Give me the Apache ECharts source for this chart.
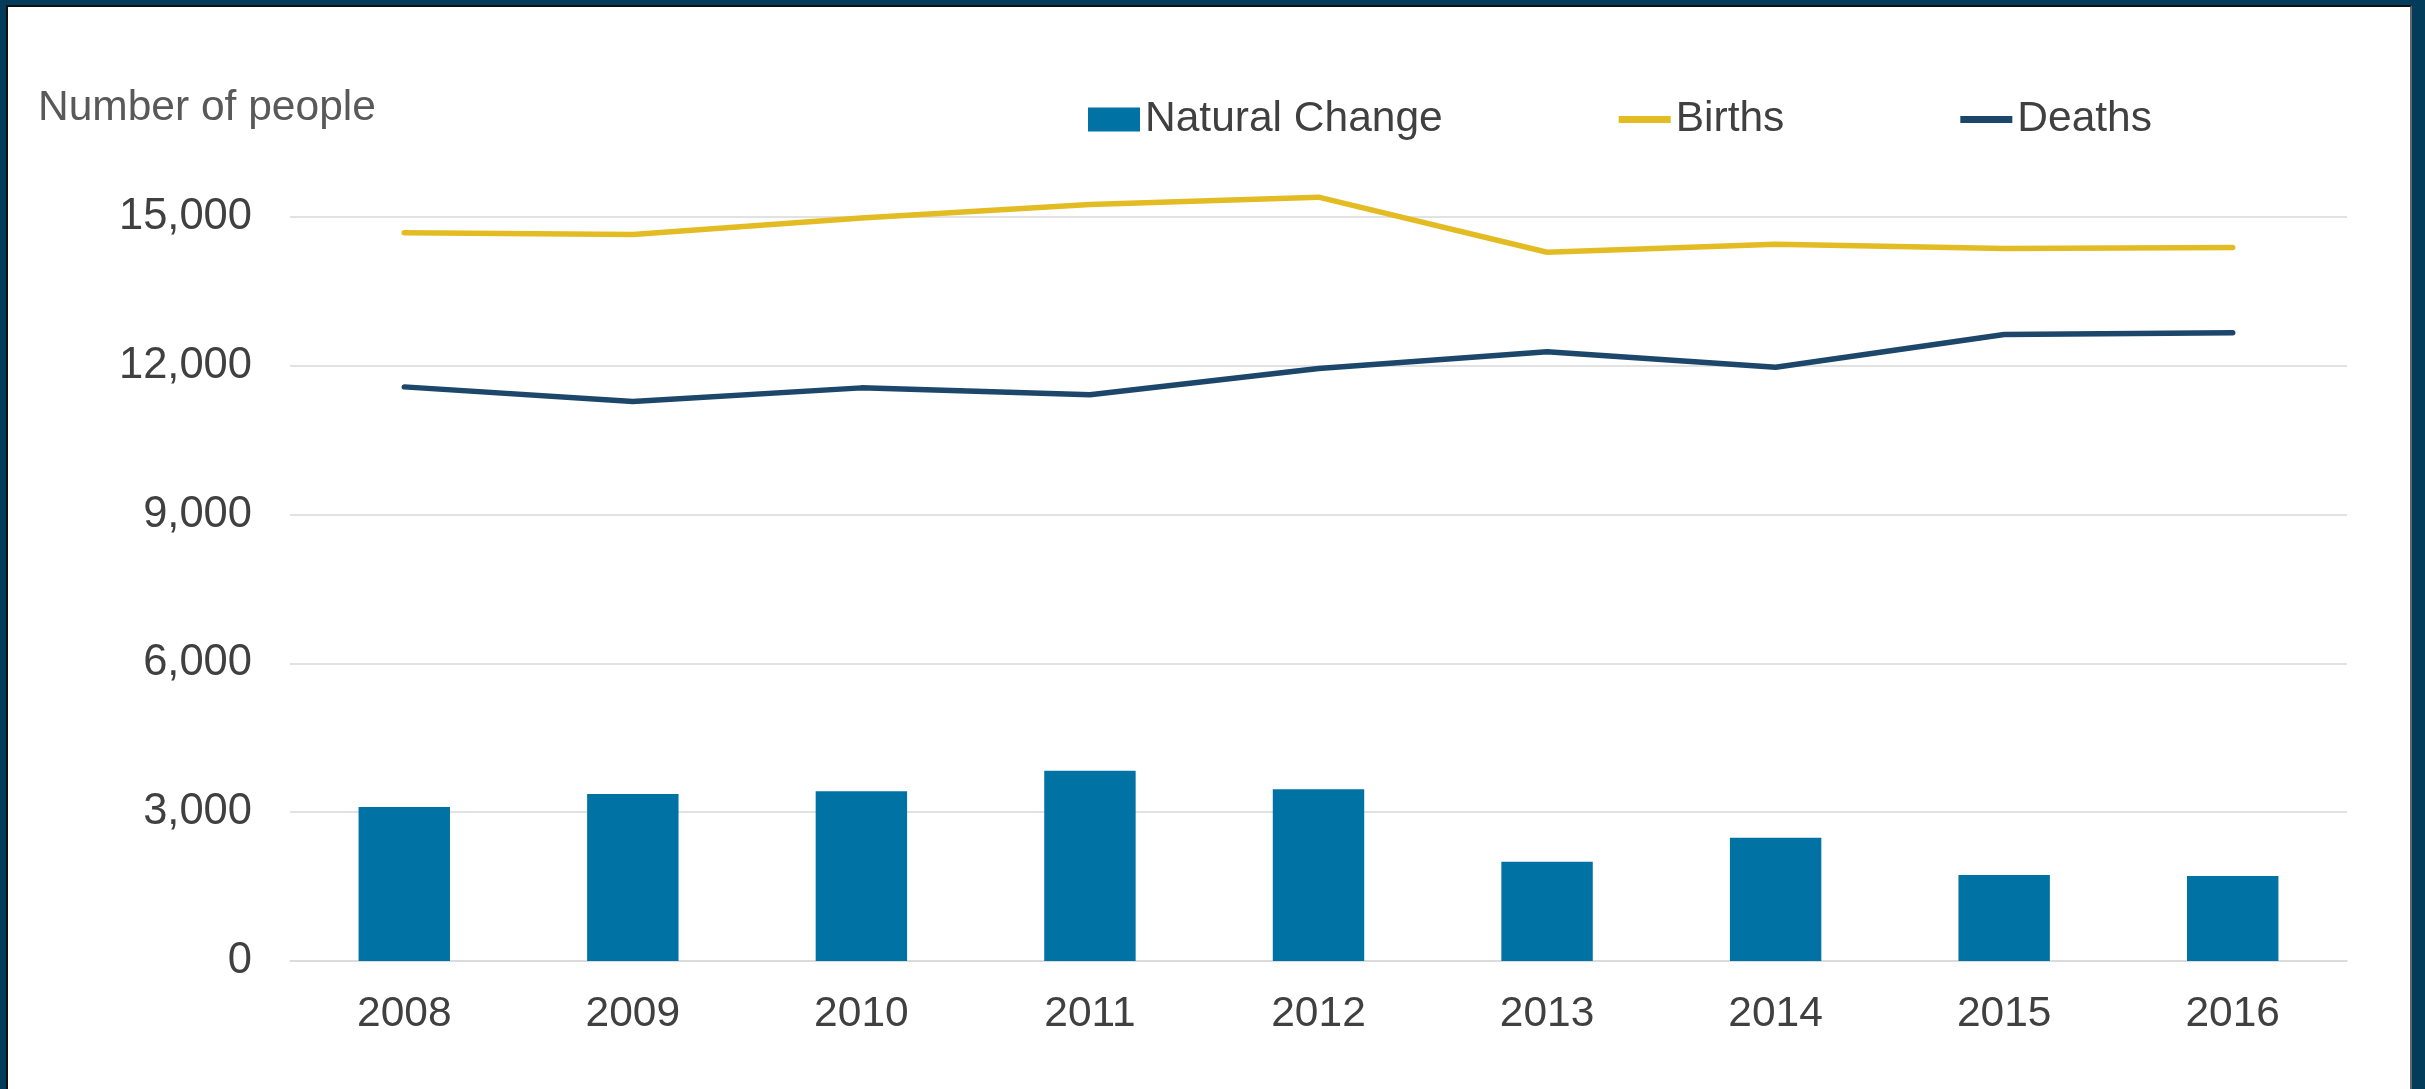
<!DOCTYPE html>
<html>
<head>
<meta charset="utf-8">
<script src="https://cdn.jsdelivr.net/npm/echarts@6/dist/echarts.min.js"></script>
<style>
    html, body { margin: 0; padding: 0; width: 2425px; height: 1089px; overflow: hidden; background: #023c5a; }
    #panel { position: absolute; left: 6px; top: 5px; width: 2402px; height: 1084px; background: #fff;
             border-left: 2px solid #111; border-top: 2px solid #111; border-right: 2px solid #666; }
    #main { position: absolute; left: 0; top: 0; width: 2425px; height: 1089px; }
</style>
</head>
<body>
<div id="panel"></div>
<div id="main"></div>
<script>
    // values
    var years = ['2008', '2009', '2010', '2011', '2012', '2013', '2014', '2015', '2016'];
    var naturalChange = [3105, 3365, 3420, 3835, 3465, 2000, 2485, 1732, 1716];
    var births = [14680, 14645, 14980, 15250, 15400, 14290, 14450, 14365, 14385];
    var deaths = [11575, 11280, 11555, 11415, 11945, 12285, 11970, 12630, 12665];

    var font = 'Liberation Sans, Arial, sans-serif';
    // line centred in a 52x24 box, so the legend shows a plain line
    var lineIcon = 'path://M0,0M52,24M0,8.5h52v7h-52z';

    var chart = echarts.init(document.getElementById('main'));
    var option = {
        animation: false,
        title: {
            text: 'Number of people',
            left: 33,
            top: 82,
            textStyle: { fontFamily: font, fontSize: 42.5, fontWeight: 'normal', color: '#595959' }
        },
        legend: {
            left: 1083,
            top: 93,
            itemGap: 176,
            itemWidth: 52,
            itemHeight: 24,
            textStyle: { fontFamily: font, fontSize: 42.5, color: '#404040' },
            data: [
                { name: 'Natural Change', icon: 'rect' },
                { name: 'Births', icon: lineIcon },
                { name: 'Deaths', icon: lineIcon }
            ]
        },
        grid: { left: 290, right: 78, top: 217, bottom: 128, containLabel: false },
        xAxis: {
            type: 'category',
            data: years,
            axisLine: { lineStyle: { color: '#d9d9d9', width: 1.5 } },
            axisTick: { show: false },
            axisLabel: { fontFamily: font, fontSize: 42.5, color: '#404040', margin: 32 }
        },
        yAxis: {
            type: 'value',
            min: 0,
            max: 15000,
            interval: 3000,
            axisLine: { show: false },
            axisTick: { show: false },
            splitLine: { lineStyle: { color: '#d9d9d9', width: 1.5 } },
            axisLabel: {
                fontFamily: font, fontSize: 43.5, color: '#404040', margin: 38,
                padding: [9, 0, 0, 0],
                formatter: function (v) { return v.toLocaleString('en-US'); }
            }
        },
        series: [
            {
                name: 'Natural Change',
                type: 'bar',
                data: naturalChange,
                barWidth: '40%',
                itemStyle: { color: '#0073a4' }
            },
            {
                name: 'Births',
                type: 'line',
                data: births,
                symbol: 'none',
                clip: false,
                lineStyle: { color: '#e3bc24', width: 5.5, cap: 'round' },
                itemStyle: { color: '#e3bc24' }
            },
            {
                name: 'Deaths',
                type: 'line',
                data: deaths,
                symbol: 'none',
                clip: false,
                lineStyle: { color: '#1c476b', width: 5.5, cap: 'round' },
                itemStyle: { color: '#1c476b' }
            }
        ]
    };
    chart.setOption(option);
</script>
</body>
</html>
